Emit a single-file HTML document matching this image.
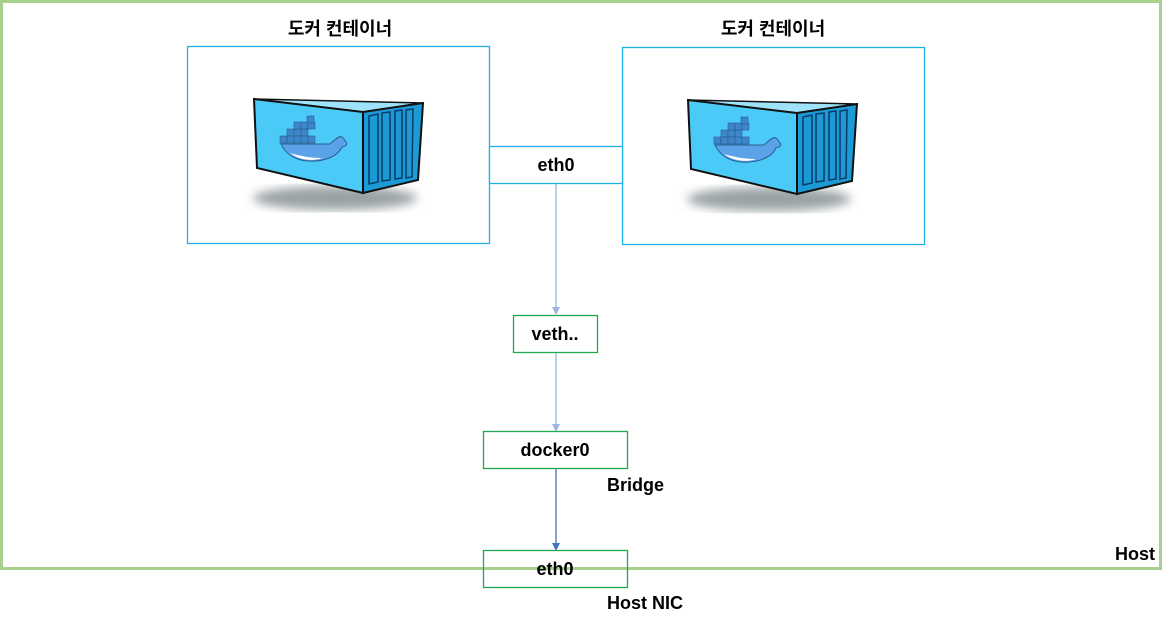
<!DOCTYPE html>
<html><head><meta charset="utf-8"><style>
body{margin:0;width:1167px;height:624px;background:#fff;overflow:hidden;font-family:"Liberation Sans","Noto Sans CJK KR",sans-serif;}
</style></head><body>
<svg width="1167" height="624" xmlns="http://www.w3.org/2000/svg" style="position:absolute;left:0;top:0">
<defs>
<filter id="bl"><feGaussianBlur stdDeviation="5"/></filter>
<g id="ct">
<ellipse cx="335" cy="198" rx="82" ry="12" fill="#9aa2a4" filter="url(#bl)"/>
<polygon points="254,99 423,103 363,112" fill="#9fe3fb" stroke="#111" stroke-width="1.5"/>
<polygon points="254,99 363,112 363,193 257,168" fill="#4ccaf7" stroke="#111" stroke-width="2"/>
<polygon points="363,112 423,103 418,180 363,193" fill="#1c9ad6" stroke="#111" stroke-width="2"/>
<g fill="none" stroke="#0a3a66" stroke-width="1.5">
<polygon points="369,116 378,114 378,182 369,184"/>
<polygon points="382,113 390,112 390,180 382,181"/>
<polygon points="395,111 402,110 402,178 395,179"/>
<polygon points="406,110 413,109 412,177 406,178"/>
</g>
<g fill="#3d86c9" stroke="#2a5d90" stroke-width="0.6">
<rect x="287" y="129" width="7" height="7"/><rect x="294" y="129" width="7" height="7"/><rect x="301" y="129" width="7" height="7"/>
<rect x="294" y="122" width="7" height="7"/><rect x="301" y="122" width="7" height="7"/><rect x="308" y="122" width="7" height="7"/>
<rect x="307" y="116" width="7" height="7"/>
<rect x="280" y="136" width="7" height="7"/><rect x="287" y="136" width="7" height="7"/><rect x="294" y="136" width="7" height="7"/><rect x="301" y="136" width="7" height="7"/><rect x="308" y="136" width="7" height="7"/>
</g>
<path d="M281,144 L330,144 C335,140 340,134 343,138 C346,142 350,145 342,147 C338,156 325,162 308,161 C292,160 285,152 281,144Z" fill="#5aa3e8" stroke="#2a5d90" stroke-width="1"/>
<path d="M290,153 C300,161 315,161 322,158 C310,158 300,156 290,153Z" fill="#fff"/>
</g>
</defs>
<rect x="1.5" y="1.5" width="1159" height="567" fill="none" stroke="#a9d18e" stroke-width="3"/>
<rect x="187.5" y="46.5" width="302" height="197" fill="#fff" stroke="#1fb0e6" stroke-width="1.3"/>
<rect x="622.5" y="47.5" width="302" height="197" fill="#fff" stroke="#1fb0e6" stroke-width="1.3"/>
<use href="#ct"/>
<use href="#ct" x="434" y="1"/>
<rect x="489.5" y="146.5" width="133" height="37" fill="#fff" stroke="#1fb0e6" stroke-width="1.3"/>
<line x1="556" y1="184" x2="556" y2="308" stroke="#9fb4e0" stroke-width="1.3"/>
<polygon points="552,307 560,307 556,315" fill="#9fb4e0"/>
<line x1="556" y1="352" x2="556" y2="424" stroke="#9fb4e0" stroke-width="1.3"/>
<polygon points="552,424 560,424 556,432" fill="#9fb4e0"/>
<line x1="556" y1="468" x2="556" y2="543" stroke="#4472c4" stroke-width="1.3"/>
<polygon points="552,543 560,543 556,551" fill="#4472c4"/>
<rect x="513.5" y="315.5" width="84" height="37" fill="#fff" stroke="#1eaa4e" stroke-width="1.3"/>
<rect x="483.5" y="431.5" width="144" height="37" fill="#fff" stroke="#1eaa4e" stroke-width="1.3"/>
<rect x="483.5" y="550.5" width="144" height="37" fill="none" stroke="#1eaa4e" stroke-width="1.3"/>
<g font-family="Liberation Sans, Noto Sans CJK KR, sans-serif" font-weight="bold" font-size="18" fill="#000">
<text x="340" y="35" text-anchor="middle">도커 컨테이너</text>
<text x="773" y="35" text-anchor="middle">도커 컨테이너</text>
<text x="556" y="171" text-anchor="middle">eth0</text>
<text x="555" y="340" text-anchor="middle">veth..</text>
<text x="555" y="456" text-anchor="middle">docker0</text>
<text x="555" y="575" text-anchor="middle">eth0</text>
<text x="607" y="491">Bridge</text>
<text x="607" y="609">Host NIC</text>
<text x="1155" y="560" text-anchor="end">Host</text>
</g>
</svg>
</body></html>
